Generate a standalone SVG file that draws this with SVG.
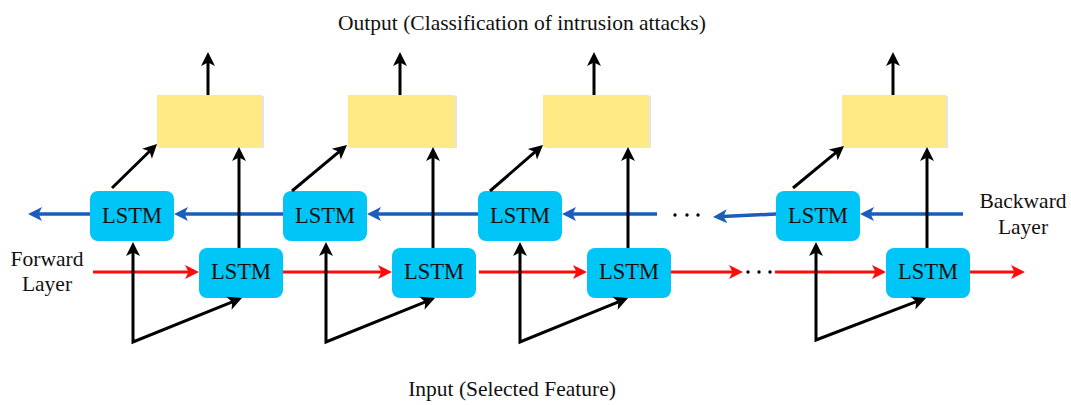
<svg xmlns="http://www.w3.org/2000/svg" width="1071" height="405" viewBox="0 0 1071 405">
<style>
  text { font-family: "Liberation Serif", "Times New Roman", serif; fill: #111; }
  .lbl { font-size: 21.5px; }
  .lstm rect { fill: #00C5F7; }
  .lstm text { font-size: 22.5px; text-anchor: middle; }
  .out rect.f { fill: #FFEA85; }
  .out rect.s { fill: #E4E4E4; }
  .k { fill: none; stroke: #000; stroke-width: 3; marker-end: url(#ak); }
  .b { fill: none; stroke: #1A5DBA; stroke-width: 3.5; marker-end: url(#ab); }
  .r { fill: none; stroke: #FF0A0A; stroke-width: 3; marker-end: url(#ar); }
  .in { fill: none; stroke: #000; stroke-width: 3; stroke-linejoin: miter; marker-start: url(#aks); marker-end: url(#ak); }
</style>
<defs>
  <marker id="ak" markerUnits="userSpaceOnUse" viewBox="-6 -8 16 16" markerWidth="16" markerHeight="16" refX="0" refY="0" orient="auto" overflow="visible">
    <path d="M9,0 L-5,-7 L-1.5,0 L-5,7 Z" fill="#000"/>
  </marker>
  <marker id="aks" markerUnits="userSpaceOnUse" viewBox="-6 -8 16 16" markerWidth="16" markerHeight="16" refX="0" refY="0" orient="auto-start-reverse" overflow="visible">
    <path d="M9,0 L-5,-7 L-1.5,0 L-5,7 Z" fill="#000"/>
  </marker>
  <marker id="ab" markerUnits="userSpaceOnUse" viewBox="-6 -8 16 16" markerWidth="16" markerHeight="16" refX="0" refY="0" orient="auto" overflow="visible">
    <path d="M9,0 L-5,-7 L-1.5,0 L-5,7 Z" fill="#1A5DBA"/>
  </marker>
  <marker id="ar" markerUnits="userSpaceOnUse" viewBox="-6 -8 16 16" markerWidth="16" markerHeight="16" refX="0" refY="0" orient="auto" overflow="visible">
    <path d="M9,0 L-5,-7 L-1.5,0 L-5,7 Z" fill="#FF0A0A"/>
  </marker>
</defs>
<rect width="1071" height="405" fill="#fff"/>

<g id="labels">
  <text class="lbl" x="522" y="30" text-anchor="middle">Output (Classification of intrusion attacks)</text>
  <text class="lbl" x="512" y="396" text-anchor="middle">Input (Selected Feature)</text>
  <text class="lbl" x="47" y="266" text-anchor="middle">Forward</text>
  <text class="lbl" x="47" y="291" text-anchor="middle">Layer</text>
  <text class="lbl" x="1023" y="208" text-anchor="middle">Backward</text>
  <text class="lbl" x="1023" y="234" text-anchor="middle">Layer</text>
</g>

<g id="out1" class="out"><rect class="s" x="159" y="96" width="105" height="52"/><rect class="f" x="157" y="95" width="105" height="52"/></g>
<g id="out2" class="out"><rect class="s" x="350" y="96" width="107" height="52"/><rect class="f" x="348" y="95" width="107" height="52"/></g>
<g id="out3" class="out"><rect class="s" x="545" y="96" width="106" height="52"/><rect class="f" x="543" y="95" width="106" height="52"/></g>
<g id="out4" class="out"><rect class="s" x="844" y="96" width="104" height="52"/><rect class="f" x="842" y="95" width="104" height="52"/></g>

<g id="bw1" class="lstm"><rect x="90" y="191" width="84" height="50" rx="8"/><text x="132" y="222.5">LSTM</text></g>
<g id="bw2" class="lstm"><rect x="283" y="191" width="84" height="50" rx="8"/><text x="325" y="222.5">LSTM</text></g>
<g id="bw3" class="lstm"><rect x="478" y="191" width="84" height="50" rx="8"/><text x="520" y="222.5">LSTM</text></g>
<g id="bw4" class="lstm"><rect x="776" y="191" width="84" height="50" rx="8"/><text x="818" y="222.5">LSTM</text></g>

<g id="fw1" class="lstm"><rect x="199" y="248" width="84" height="50" rx="8"/><text x="241" y="279">LSTM</text></g>
<g id="fw2" class="lstm"><rect x="392" y="248" width="84" height="50" rx="8"/><text x="434" y="279">LSTM</text></g>
<g id="fw3" class="lstm"><rect x="587" y="248" width="84" height="50" rx="8"/><text x="629" y="279">LSTM</text></g>
<g id="fw4" class="lstm"><rect x="886" y="248" width="84" height="50" rx="8"/><text x="928" y="279">LSTM</text></g>

<g id="connectors">
  <path class="b" d="M90,214 L37,214"/>
  <path class="b" d="M283,214 L183,214"/>
  <path class="b" d="M478,214 L376,214"/>
  <path class="b" d="M657,214 L571,214"/>
  <path class="b" d="M776,214 L722,216.6"/>
  <path class="b" d="M963,214 L869,214"/>
  <g fill="#000">
    <circle cx="675" cy="215" r="1.7"/><circle cx="687" cy="215" r="1.7"/><circle cx="698" cy="215" r="1.7"/>
    <circle cx="748" cy="272" r="1.7"/><circle cx="759" cy="272" r="1.7"/><circle cx="770" cy="272" r="1.7"/>
  </g>
  <path class="r" d="M93,272 L190,272"/>
  <path class="r" d="M283,272 L383,272"/>
  <path class="r" d="M479,272 L578,272"/>
  <path class="r" d="M671,272 L734,272"/>
  <path class="r" d="M775,272 L877,272"/>
  <path class="r" d="M970,272 L1016,272"/>
  <path class="k" d="M208,95 L208,61"/>
  <path class="k" d="M400,95 L400,61"/>
  <path class="k" d="M594,95 L594,61"/>
  <path class="k" d="M893,95 L893,61"/>
  <path class="k" d="M239,248 L239,156"/>
  <path class="k" d="M433,248 L433,156"/>
  <path class="k" d="M628,248 L628,156"/>
  <path class="k" d="M927,248 L927,156"/>
  <path class="k" d="M112,188 L150.6,150.3"/>
  <path class="k" d="M292,191 L340.1,150.8"/>
  <path class="k" d="M490,191 L536.2,150.9"/>
  <path class="k" d="M793,188 L837.1,151.7"/>
  <path class="in" d="M133,251 L133,342 L233.6,301.4"/>
  <path class="in" d="M326,251 L326,342 L426.6,301.4"/>
  <path class="in" d="M520,251 L520,342 L619.7,301.4"/>
  <path class="in" d="M816,251 L816,340 L917.6,301.2"/>
</g>
</svg>
